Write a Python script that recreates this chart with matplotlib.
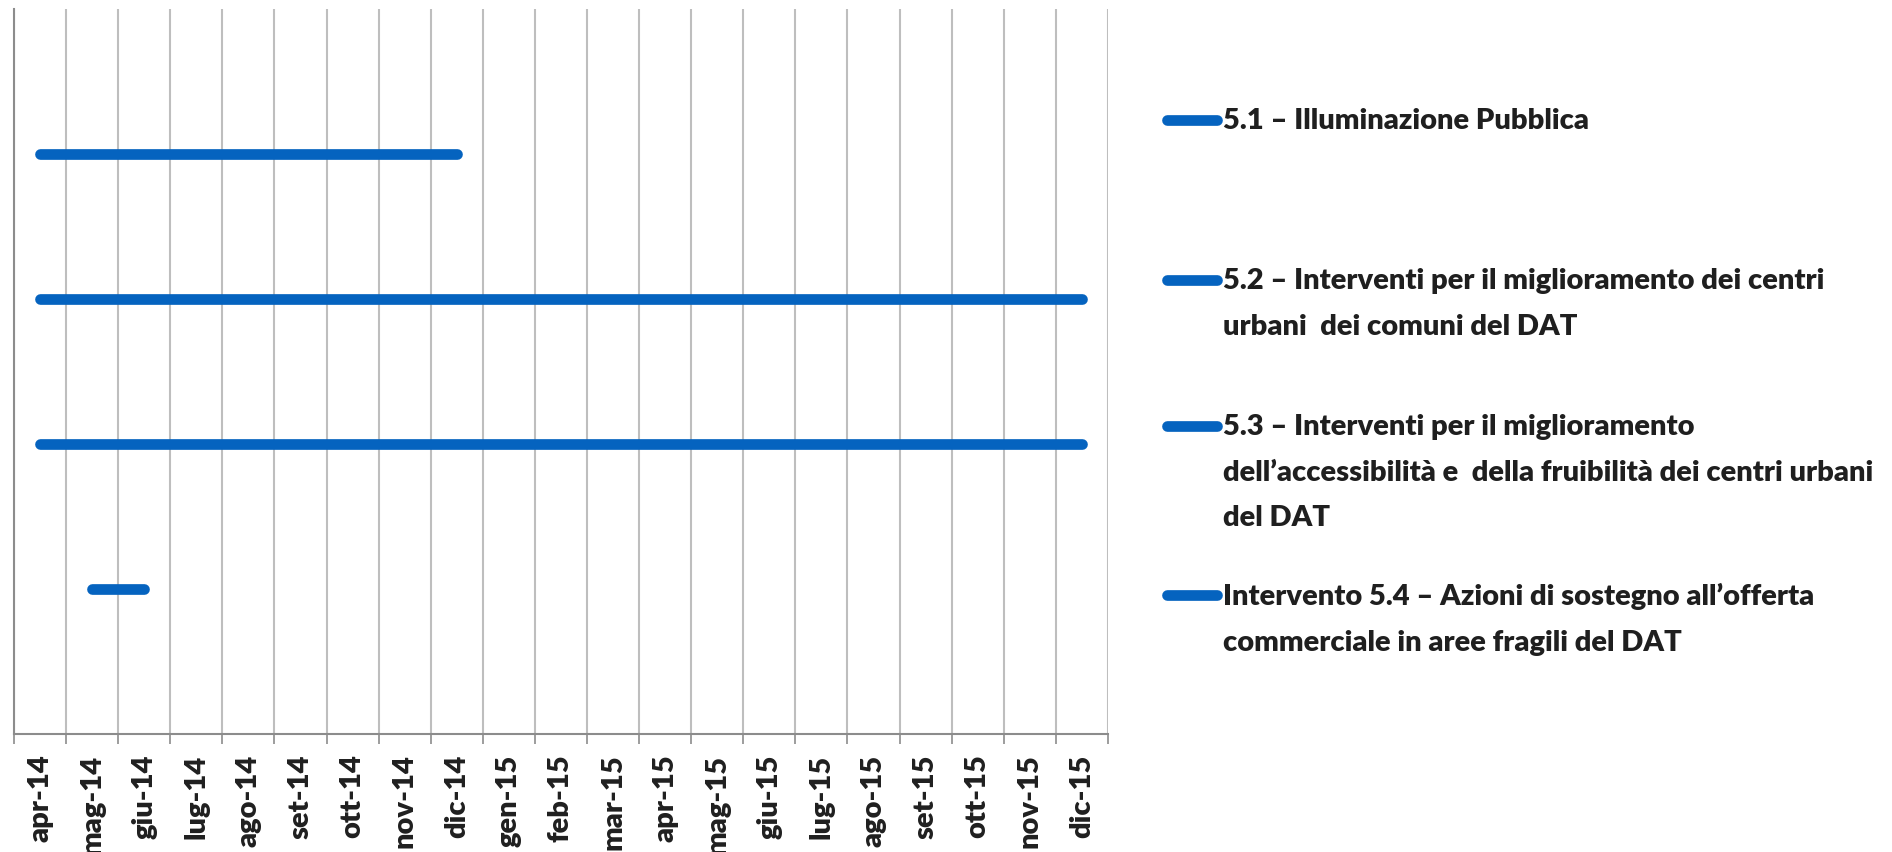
import matplotlib
matplotlib.use("Agg")
import matplotlib.pyplot as plt
from matplotlib.lines import Line2D
import numpy as np

plt.rcParams['font.family'] = ['Lato', 'DejaVu Sans']

# month categories on the x axis
months = ["apr-14", "mag-14", "giu-14", "lug-14", "ago-14", "set-14", "ott-14",
          "nov-14", "dic-14", "gen-15", "feb-15", "mar-15", "apr-15", "mag-15",
          "giu-15", "lug-15", "ago-15", "set-15", "ott-15", "nov-15", "dic-15"]

# one line per intervention: start month, end month, level
series_labels = [
    "5.1 – Illuminazione Pubblica",
    "5.2 – Interventi per il miglioramento dei centri\nurbani  dei comuni del DAT",
    "5.3 – Interventi per il miglioramento\ndell’accessibilità e  della fruibilità dei centri urbani\ndel DAT",
    "Intervento 5.4 – Azioni di sostegno all’offerta\ncommerciale in aree fragili del DAT",
]
series_start = ["apr-14", "apr-14", "apr-14", "mag-14"]
series_end = ["dic-14", "dic-15", "dic-15", "giu-14"]
series_level = [4, 3, 2, 1]

blue = "#0563BF"
text_col = "#1F1F1F"

fig = plt.figure(figsize=(18.92, 8.53), dpi=100)
ax = fig.add_axes([0.0074, 0.1383, 0.5782, 0.85])

idx = {m: i for i, m in enumerate(months)}
for s, e, y in zip(series_start, series_end, series_level):
    ax.plot([idx[s], idx[e]], [y, y], color=blue, lw=7.7,
            solid_capstyle='round', zorder=3)

ax.set_xlim(-0.5, len(months) - 0.5)
ax.set_ylim(0, 5)

ax.set_xticks(np.arange(len(months) + 1) - 0.5)
ax.set_xticklabels([])
ax.set_xticks(np.arange(len(months)), minor=True)
ax.set_xticklabels(months, minor=True)
for t in ax.get_xticklabels(minor=True):
    t.set_rotation(90)
    t.set_fontsize(21)
    t.set_fontweight('heavy')
    t.set_color(text_col)
ax.tick_params(axis='x', which='major', length=7, width=1.2, color="#8C8C8C",
               direction='out')
ax.tick_params(axis='x', which='minor', length=0, pad=14)
ax.set_yticks([])
ax.grid(axis='x', which='major', color="#BEBEBE", lw=1.5)

for side in ['top', 'right']:
    ax.spines[side].set_visible(False)
for side in ['left', 'bottom']:
    ax.spines[side].set_color("#8C8C8C")
    ax.spines[side].set_linewidth(1.5)

# legend drawn by hand so the handle sits on the first line of text
legend_y = [121, 281, 427, 596]
for lab, ypx in zip(series_labels, legend_y):
    yf = 1 - ypx / 853
    fig.add_artist(Line2D([1167 / 1892, 1217 / 1892], [yf, yf], color=blue,
                          lw=7.7, solid_capstyle='round',
                          transform=fig.transFigure))
    fig.text(1223 / 1892, yf + 13 / 853, lab, fontsize=21, fontweight='heavy',
             color=text_col, va='top', ha='left', linespacing=1.93)

fig.savefig("out.png", dpi=100)
